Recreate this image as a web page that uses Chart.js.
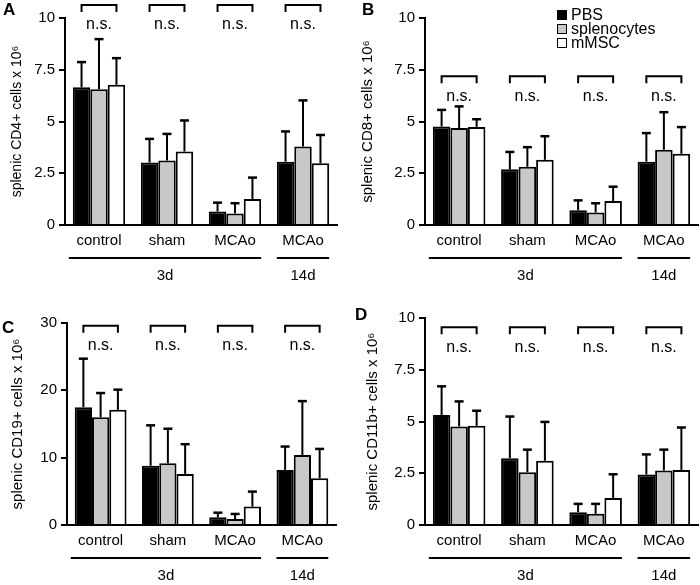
<!DOCTYPE html>
<html lang="en">
  <head>
    <meta charset="UTF-8" />
    <title>Splenic cell counts</title>
    <script src="https://cdn.jsdelivr.net/npm/chart.js"></script>
    <style>
      body { margin: 0; background: #fff; }
      .wrap { position: relative; width: 700px; height: 585px; font-family: "Liberation Sans", Arial, sans-serif; color: #000; }
      .wrap canvas { position: absolute; }
      .letter { position: absolute; font-weight: bold; font-size: 17px; line-height: 17px; }
      .legend { position: absolute; left: 557px; top: 8px; font-size: 16px; line-height: 14px; }
      .legend div { display: flex; align-items: center; height: 14px; }
      .legend span.box { display: inline-block; width: 8px; height: 8px; border: 1.5px solid #000; margin-right: 4px; }
    </style>
  </head>

  <body>
    <div class="wrap">
      <canvas id="chartA" width="350" height="290" style="left:0;top:0"></canvas>
      <canvas id="chartB" width="350" height="290" style="left:350px;top:0"></canvas>
      <canvas id="chartC" width="350" height="295" style="left:0;top:290px"></canvas>
      <canvas id="chartD" width="350" height="295" style="left:350px;top:290px"></canvas>
      <div class="letter" style="left:3px;top:1px">A</div>
      <div class="letter" style="left:362px;top:1px">B</div>
      <div class="letter" style="left:2px;top:319px">C</div>
      <div class="letter" style="left:355px;top:306px">D</div>
      <div class="legend" id="legend"></div>
    </div>

    <script>
      const groupLabels = ["control", "sham", "MCAo", "MCAo"];
      const seriesNames = ["PBS", "splenocytes", "mMSC"];
      const seriesColors = ["#000000", "#c8c8c8", "#ffffff"];

      // means and SD (upper error bar), x 10^6 cells
      const cd4Pbs = [6.65, 3.02, 0.65, 3.06];
      const cd4PbsSd = [1.22, 1.14, 0.43, 1.46];
      const cd4Spl = [6.56, 3.11, 0.56, 3.79];
      const cd4SplSd = [2.42, 1.29, 0.49, 2.23];
      const cd4Msc = [6.77, 3.55, 1.26, 2.98];
      const cd4MscSd = [1.29, 1.5, 1.03, 1.37];

      const cd8Pbs = [4.76, 2.69, 0.71, 3.06];
      const cd8PbsSd = [0.8, 0.84, 0.48, 1.38];
      const cd8Spl = [4.68, 2.81, 0.6, 3.63];
      const cd8SplSd = [1.05, 0.95, 0.45, 1.82];
      const cd8Msc = [4.74, 3.15, 1.16, 3.44];
      const cd8MscSd = [0.37, 1.14, 0.69, 1.29];

      const cd19Pbs = [17.5, 8.8, 1.14, 8.18];
      const cd19PbsSd = [7.2, 6.0, 0.69, 3.47];
      const cd19Spl = [16.0, 9.17, 0.89, 10.4];
      const cd19SplSd = [3.6, 5.13, 0.75, 8.0];
      const cd19Msc = [17.1, 7.59, 2.73, 6.94];
      const cd19MscSd = [3.0, 4.41, 2.23, 4.36];

      const cd11bPbs = [5.31, 3.23, 0.62, 2.44];
      const cd11bPbsSd = [1.39, 2.01, 0.4, 0.97];
      const cd11bSpl = [4.76, 2.55, 0.54, 2.63];
      const cd11bSplSd = [1.21, 1.09, 0.48, 1.01];
      const cd11bMsc = [4.79, 3.1, 1.3, 2.66];
      const cd11bMscSd = [0.73, 1.88, 1.15, 2.05];

      const fontFamily = "'Liberation Sans', Arial, sans-serif";

      // error bars (upper only)
      const errorBars = {
        id: "errorBars",
        afterDatasetsDraw(chart) {
          const ctx = chart.ctx;
          const y = chart.scales.y;
          chart.data.datasets.forEach((ds, i) => {
            chart.getDatasetMeta(i).data.forEach((bar, j) => {
              const top = y.getPixelForValue(ds.data[j] + ds.sd[j]);
              ctx.save();
              ctx.strokeStyle = "#000";
              ctx.lineWidth = 2;
              ctx.beginPath();
              ctx.moveTo(bar.x, bar.y);
              ctx.lineTo(bar.x, top);
              ctx.stroke();
              ctx.lineWidth = 2.5;
              ctx.beginPath();
              ctx.moveTo(bar.x - 4.5, top);
              ctx.lineTo(bar.x + 4.5, top);
              ctx.stroke();
              ctx.restore();
            });
          });
        },
      };

      // n.s. brackets + 3d / 14d group lines
      const annotations = {
        id: "annotations",
        afterDraw(chart) {
          const ctx = chart.ctx;
          const y = chart.scales.y;
          const o = chart.options.plugins.annotations;
          const first = chart.getDatasetMeta(0).data;
          const last = chart.getDatasetMeta(2).data;
          const top = y.getPixelForValue(o.bracketAt);
          ctx.save();
          ctx.strokeStyle = "#000";
          ctx.fillStyle = "#000";
          ctx.lineWidth = 2;
          ctx.font = "16px " + fontFamily;
          ctx.textAlign = "center";
          ctx.textBaseline = "middle";
          first.forEach((bar, i) => {
            const x1 = bar.x;
            const x2 = last[i].x;
            ctx.beginPath();
            ctx.moveTo(x1, top + 7);
            ctx.lineTo(x1, top);
            ctx.lineTo(x2, top);
            ctx.lineTo(x2, top + 7);
            ctx.stroke();
            ctx.fillText("n.s.", (x1 + x2) / 2, top + 20);
          });
          const half = first[0].width / 2;
          const lineY = chart.chartArea.bottom + 33;
          const textY = chart.chartArea.bottom + 51;
          const spans = [
            ["3d", first[0].x - half - 4, last[2].x + half],
            ["14d", first[3].x - half, last[3].x + half],
          ];
          ctx.font = "15px " + fontFamily;
          spans.forEach(([label, a, b]) => {
            ctx.beginPath();
            ctx.moveTo(a, lineY);
            ctx.lineTo(b, lineY);
            ctx.stroke();
            ctx.fillText(label, (a + b) / 2, textY);
          });
          ctx.restore();
        },
      };

      function makePanel(id, p) {
        const sets = [p.pbs, p.spl, p.msc].map((s, i) => ({
          label: seriesNames[i],
          data: s[0],
          sd: s[1],
          backgroundColor: seriesColors[i],
          borderColor: "#000",
          borderWidth: 2,
          borderSkipped: "bottom",
          categoryPercentage: 0.77,
          barPercentage: 1,
        }));
        return new Chart(document.getElementById(id), {
          type: "bar",
          data: { labels: groupLabels, datasets: sets },
          options: {
            responsive: false,
            animation: false,
            layout: { padding: p.padding },
            plugins: {
              legend: { display: false },
              tooltip: { enabled: false },
              annotations: { bracketAt: p.bracketAt },
            },
            scales: {
              x: {
                grid: { display: false, drawTicks: false },
                border: { display: true, color: "#000", width: 2 },
                ticks: { color: "#000", padding: 7, font: { family: fontFamily, size: 15 } },
                afterFit: (s) => { s.height = p.xHeight; },
              },
              y: {
                min: 0,
                max: p.max,
                ticks: { stepSize: p.step, color: "#000", padding: 4, font: { family: fontFamily, size: 15 } },
                grid: { display: true, drawOnChartArea: false, drawTicks: true, tickLength: 6, color: "#000", lineWidth: 2 },
                border: { display: true, color: "#000", width: 2 },
                title: {
                  display: true,
                  text: p.title,
                  color: "#000",
                  padding: { top: p.titlePad, bottom: 0 },
                  font: { family: p.titleFont || fontFamily, size: p.titleSize },
                },
                afterFit: (s) => { s.width = p.yWidth; },
              },
            },
          },
          plugins: [errorBars, annotations],
        });
      }

      makePanel("chartA", {
        pbs: [cd4Pbs, cd4PbsSd], spl: [cd4Spl, cd4SplSd], msc: [cd4Msc, cd4MscSd],
        title: "splenic CD4+ cells x 10⁶", titleFont: "'Liberation Sans Narrow', " + fontFamily, titleSize: 14, titlePad: 9,
        max: 10, step: 2.5, bracketAt: 10.63,
        padding: { left: 0, right: 13, top: 18, bottom: 0 }, yWidth: 65, xHeight: 65,
      });
      makePanel("chartB", {
        pbs: [cd8Pbs, cd8PbsSd], spl: [cd8Spl, cd8SplSd], msc: [cd8Msc, cd8MscSd],
        title: "splenic CD8+ cells x 10⁶", titleSize: 15, titlePad: 9,
        max: 10, step: 2.5, bracketAt: 7.18,
        padding: { left: 0, right: 2, top: 18, bottom: 0 }, yWidth: 75, xHeight: 65,
      });
      makePanel("chartC", {
        pbs: [cd19Pbs, cd19PbsSd], spl: [cd19Spl, cd19SplSd], msc: [cd19Msc, cd19MscSd],
        title: "splenic CD19+ cells x 10⁶", titleSize: 15, titlePad: 9,
        max: 30, step: 10, bracketAt: 29.6,
        padding: { left: 0, right: 14, top: 33, bottom: 0 }, yWidth: 67, xHeight: 60,
      });
      makePanel("chartD", {
        pbs: [cd11bPbs, cd11bPbsSd], spl: [cd11bSpl, cd11bSplSd], msc: [cd11bMsc, cd11bMscSd],
        title: "splenic CD11b+ cells x 10⁶", titleSize: 15, titlePad: 14,
        max: 10, step: 2.5, bracketAt: 9.55,
        padding: { left: 0, right: 2, top: 28, bottom: 0 }, yWidth: 75, xHeight: 60,
      });

      // legend for panel B
      document.getElementById("legend").innerHTML = seriesNames
        .map((n, i) => `<div><span class="box" style="background:${seriesColors[i]}"></span>${n}</div>`)
        .join("");
    </script>
  </body>
</html>
